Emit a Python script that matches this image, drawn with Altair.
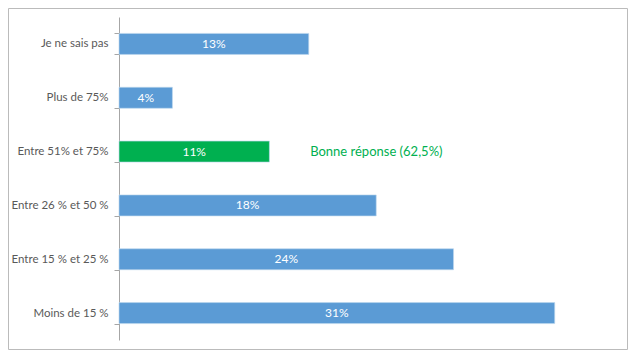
import altair as alt
import pandas as pd

categories = ["Je ne sais pas", "Plus de 75%", "Entre 51% et 75%",
              "Entre 26 % et 50 %", "Entre 15 % et 25 %", "Moins de 15 %"]
values = [13.5, 3.8, 10.7, 18.3, 23.8, 31.0]
labels = ["13%", "4%", "11%", "18%", "24%", "31%"]
highlight = [False, False, True, False, False, False]

note_text = ["Bonne réponse (62,5%)"]
note_category = ["Entre 51% et 75%"]
note_x = [13.6]

df = pd.DataFrame({"cat": categories, "value": values, "label": labels, "good": highlight})
df["half"] = df["value"] / 2
note_df = pd.DataFrame({"cat": note_category, "x": note_x, "text": note_text})

FONT = "Lato"
W, H = 506, 323

y = alt.Y("cat:N", sort=categories, title=None,
          scale=alt.Scale(paddingInner=0.61, paddingOuter=0.305),
          axis=alt.Axis(tickBand="extent", tickSize=5, labelPadding=6,
                        domainColor="#A6A6A6", tickColor="#A6A6A6",
                        labelColor="#595959", labelFont=FONT, labelFontSize=11.5))
x_scale = alt.Scale(domain=[0, 36], nice=False)

bars = alt.Chart(df).mark_bar(stroke="#BDD7EE", strokeWidth=0.8, strokeOpacity=0.8).encode(
    y=y,
    x=alt.X("value:Q", scale=x_scale, axis=None),
    color=alt.condition("datum.good", alt.value("#00B050"), alt.value("#5B9BD5")),
)

text = alt.Chart(df).mark_text(color="white", font=FONT, fontSize=12).encode(
    y=alt.Y("cat:N", sort=categories),
    x=alt.X("half:Q", scale=x_scale),
    text="label:N",
)

note = alt.Chart(note_df).mark_text(color="#00B050", font=FONT, fontSize=13, align="left").encode(
    y=alt.Y("cat:N", sort=categories),
    x=alt.X("x:Q", scale=x_scale),
    text="text:N",
)

frame = alt.Chart(pd.DataFrame({"a": [0]})).mark_rect(
    fill=None, stroke="#BBBBBB", strokeWidth=1
).encode(
    x=alt.value(-110.5), x2=alt.value(W + 2.5),
    y=alt.value(-8.5), y2=alt.value(H + 9.5),
)

chart = alt.layer(frame, bars, text, note).properties(
    width=W, height=H,
    autosize=alt.AutoSizeParams(type="none"),
    padding={"left": 111, "top": 9, "right": 3, "bottom": 10},
).configure_view(stroke=None)

chart.save("out.html", embed_options={"renderer": "svg", "actions": False})
